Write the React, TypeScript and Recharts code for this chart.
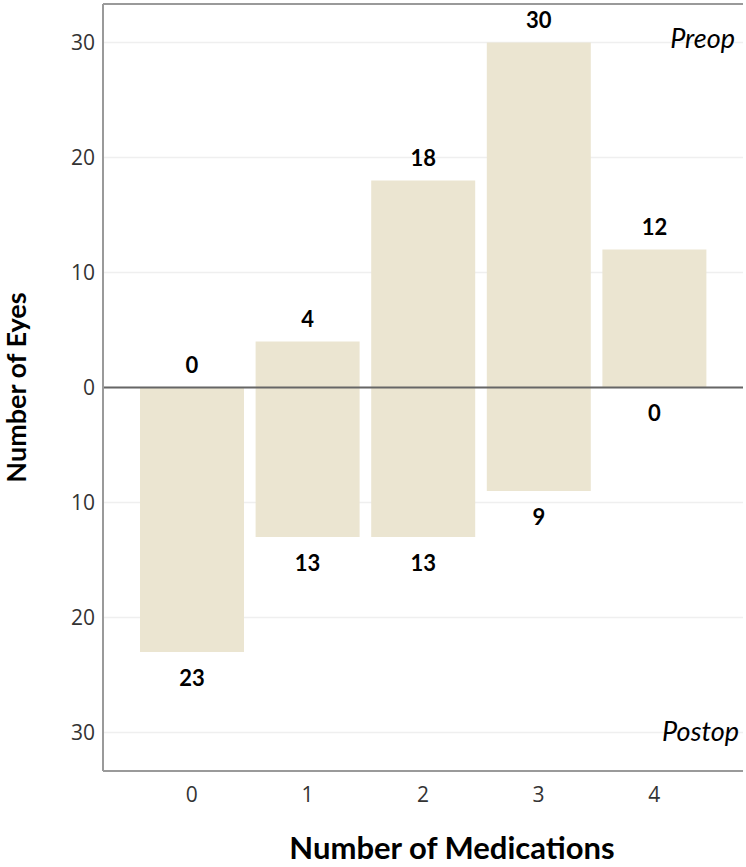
import React from 'react';
import { BarChart, Bar, XAxis, YAxis, CartesianGrid, ReferenceLine, LabelList } from 'recharts';

const categories = ['0', '1', '2', '3', '4'];
const preopEyes = [0, 4, 18, 30, 12];
const postopEyes = [23, 13, 13, 9, 0];
const yTicks = [-30, -20, -10, 0, 10, 20, 30];
const Y_MAX = 33.35;

const data = categories.map((c, i) => ({ med: c, preop: preopEyes[i], postop: -postopEyes[i] }));

const BAR_FILL = '#EBE5D1';
const LABEL_FONT = 'Lato, "DejaVu Sans", sans-serif';
const TICK_FONT = '"Open Sans", "DejaVu Sans", sans-serif';

const rectOf = (p: any) => {
  const x = p.x ?? p.viewBox?.x ?? 0;
  const y = p.y ?? p.viewBox?.y ?? 0;
  const w = p.width ?? p.viewBox?.width ?? 0;
  const h = p.height ?? p.viewBox?.height ?? 0;
  return { x, y, w, h };
};

const LabelAbove = (p: any) => {
  const { x, y, w, h } = rectOf(p);
  const top = Math.min(y, y + h);
  return (
    <text x={x + w / 2} y={top - 22} dy="0.36em" textAnchor="middle" fontFamily={LABEL_FONT} fontWeight={700} fontSize={22} fill="#000">
      {Math.abs(Number(p.value))}
    </text>
  );
};

const LabelBelow = (p: any) => {
  const { x, y, w, h } = rectOf(p);
  const bottom = Math.max(y, y + h);
  return (
    <text x={x + w / 2} y={bottom + 26} dy="0.36em" textAnchor="middle" fontFamily={LABEL_FONT} fontWeight={700} fontSize={22} fill="#000">
      {Math.abs(Number(p.value))}
    </text>
  );
};

const PreopTag = (p: any) => {
  const vb = p.viewBox || {};
  return (
    <text x={vb.x + vb.width - 8} y={vb.y + 44} textAnchor="end" fontFamily={LABEL_FONT} fontStyle="italic" fontSize={27} fill="#000">
      Preop
    </text>
  );
};

const PostopTag = (p: any) => {
  const vb = p.viewBox || {};
  return (
    <text x={vb.x + vb.width - 4} y={vb.y - 30} textAnchor="end" fontFamily={LABEL_FONT} fontStyle="italic" fontSize={27} fill="#000">
      Postop
    </text>
  );
};

const XTitle = (p: any) => {
  const vb = p.viewBox || {};
  return (
    <text x={452} y={vb.y + vb.height - 8} textAnchor="middle" fontFamily={LABEL_FONT} fontWeight={700} fontSize={31} fill="#000">
      Number of Medications
    </text>
  );
};

const YTitle = (p: any) => {
  const vb = p.viewBox || {};
  const cx = 16;
  const cy = vb.y + vb.height / 2;
  return (
    <text x={cx} y={cy} dy="0.36em" transform={`rotate(-90, ${cx}, ${cy})`} textAnchor="middle" fontFamily={LABEL_FONT} fontWeight={700} fontSize={27} fill="#000">
      Number of Eyes
    </text>
  );
};

export default function App() {
  return (
    <div style={{ position: 'absolute', left: 0, top: 0, background: '#fff' }}>
      <BarChart
        width={746}
        height={867}
        data={data}
        stackOffset="sign"
        margin={{ top: 4, right: 3, left: 0, bottom: 0 }}
      >
        <CartesianGrid vertical={false} stroke="#EFEFEF" strokeWidth={1.5} />
        <XAxis
          dataKey="med"
          type="category"
          padding={{ left: 31, right: 31 }}
          height={96}
          axisLine={{ stroke: '#9A9A9A', strokeWidth: 2 }}
          tickLine={false}
          tickMargin={10}
          tick={{ fontSize: 21, fill: '#333', fontFamily: TICK_FONT }}
          label={<XTitle />}
        />
        <YAxis
          type="number"
          domain={[-Y_MAX, Y_MAX]}
          ticks={yTicks}
          width={103}
          allowDataOverflow
          axisLine={{ stroke: '#9A9A9A', strokeWidth: 2 }}
          tickLine={false}
          tickFormatter={(v: number) => String(Math.abs(v))}
          tick={{ fontSize: 21, fill: '#333', fontFamily: TICK_FONT }}
          label={<YTitle />}
        />
        <Bar dataKey="postop" stackId="a" fill={BAR_FILL} barSize={104} minPointSize={-0.01} isAnimationActive={false}>
          <LabelList dataKey="postop" content={<LabelBelow />} />
        </Bar>
        <Bar dataKey="preop" stackId="a" fill={BAR_FILL} barSize={104} minPointSize={0.01} isAnimationActive={false}>
          <LabelList dataKey="preop" content={<LabelAbove />} />
        </Bar>
        <ReferenceLine y={0} stroke="#666" strokeWidth={2} />
        <ReferenceLine y={Y_MAX} stroke="#9A9A9A" strokeWidth={2} label={<PreopTag />} />
        <ReferenceLine y={-Y_MAX} stroke="none" label={<PostopTag />} />
      </BarChart>
    </div>
  );
}
